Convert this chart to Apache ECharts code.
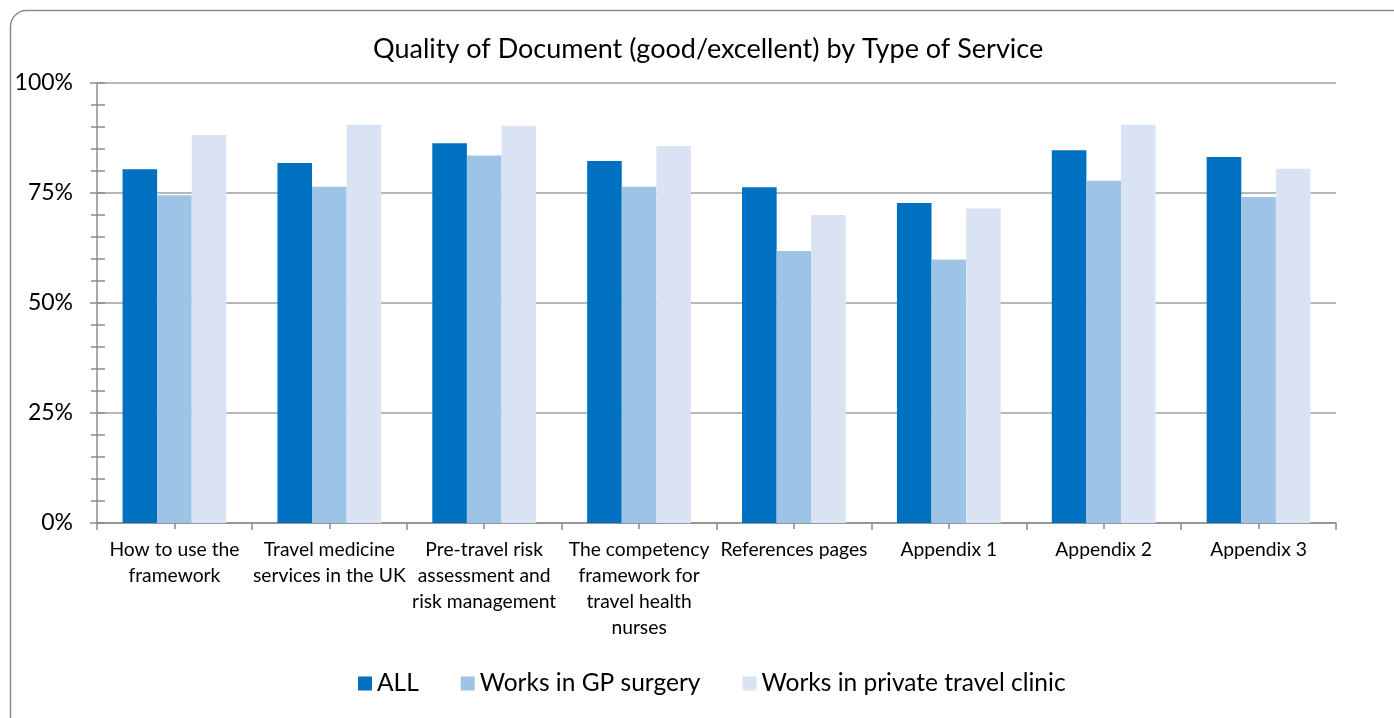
<!DOCTYPE html>
<html>
<head>
<meta charset="utf-8">
<script src="https://cdn.jsdelivr.net/npm/echarts@6/dist/echarts.min.js"></script>
<style>html,body{margin:0;padding:0;background:#fff}#c{width:1394px;height:718px}</style>
</head>
<body>
<div id="c"></div>
<script>
const title = 'Quality of Document (good/excellent) by Type of Service';
const categories = [
  'How to use the\nframework',
  'Travel medicine\nservices in the UK',
  'Pre-travel risk\nassessment and\nrisk management',
  'The competency\nframework for\ntravel health\nnurses',
  'References pages',
  'Appendix 1',
  'Appendix 2',
  'Appendix 3'
];
const seriesNames = ['ALL', 'Works in GP surgery', 'Works in private travel clinic'];
const allValues     = [80.4, 81.8, 86.3, 82.3, 76.3, 72.7, 84.7, 83.2];
const gpValues      = [74.5, 76.4, 83.5, 76.4, 61.8, 59.9, 77.8, 74.1];
const privateValues = [88.2, 90.5, 90.3, 85.7, 70.0, 71.5, 90.5, 80.5];
const yTicks = [0, 25, 50, 75, 100];

const colors = ['#0070C0', '#9DC3E6', '#DAE3F3'];
const font = 'Lato, "Open Sans", sans-serif';
const chart = echarts.init(document.getElementById('c'));
const axisGray = '#8C8C8C';

chart.setOption({
  animation: false,
  textStyle: { fontFamily: font },
  title: {
    text: title, left: 368, top: 31,
    textStyle: { fontFamily: font, fontSize: 27, fontWeight: 'normal', color: '#000' }
  },
  legend: {
    bottom: 17, left: 353,
    itemWidth: 14, itemHeight: 14, itemGap: 42,
    icon: 'rect',
    textStyle: { fontFamily: font, fontSize: 24.5, color: '#000' },
    data: seriesNames
  },
  graphic: [{
    type: 'rect', silent: true, z: -1,
    shape: { x: 10.5, y: 10.5, width: 1400, height: 730, r: 16 },
    style: { fill: '#fff', stroke: '#8A8A8A', lineWidth: 1.5 }
  }],
  grid: { left: 97, right: 58, top: 83, bottom: 195, containLabel: false },
  xAxis: [{
    type: 'category', data: categories, position: 'bottom',
    axisLine: { lineStyle: { color: axisGray, width: 1.5 } },
    axisTick: { show: true, length: 7, lineStyle: { color: axisGray, width: 1.5 } },
    axisLabel: { interval: 0, margin: 14, fontSize: 19.3, lineHeight: 26, color: '#000', fontFamily: font },
    splitLine: { show: false }
  }, {
    type: 'category', data: categories, position: 'bottom', offset: 0,
    axisLine: { show: false },
    axisTick: { show: true, alignWithLabel: true, length: 6, lineStyle: { color: axisGray, width: 1.5 } },
    axisLabel: { show: false },
    splitLine: { show: false }
  }],
  yAxis: [{
    type: 'value', min: 0, max: 100, interval: 25,
    axisLine: { show: true, lineStyle: { color: axisGray, width: 1.5 } },
    axisTick: { show: true, length: 7, lineStyle: { color: axisGray, width: 1.5 } },
    minorTick: { show: true, splitNumber: 5, length: 6, lineStyle: { color: axisGray, width: 1.5 } },
    axisLabel: {
      margin: 24, fontSize: 23, color: '#000', fontFamily: font,
      formatter: v => yTicks.indexOf(v) >= 0 ? v + '%' : ''
    },
    splitLine: { show: true, lineStyle: { color: '#A0A0A0', width: 1.5 } }
  }, {
    type: 'value', min: 0, max: 100, interval: 25, position: 'left', offset: 0,
    axisLine: { show: false },
    axisTick: { show: true, inside: true, length: 8, lineStyle: { color: axisGray, width: 1.5 } },
    minorTick: { show: true, splitNumber: 5, length: 8, lineStyle: { color: axisGray, width: 1.5 } },
    axisLabel: { show: false },
    splitLine: { show: false }
  }],
  series: [
    { name: seriesNames[0], type: 'bar', data: allValues, itemStyle: { color: colors[0] }, barGap: '0%', barCategoryGap: '33%' },
    { name: seriesNames[1], type: 'bar', data: gpValues, itemStyle: { color: colors[1] }, barGap: '0%', barCategoryGap: '33%' },
    { name: seriesNames[2], type: 'bar', data: privateValues, itemStyle: { color: colors[2] }, barGap: '0%', barCategoryGap: '33%' }
  ]
});
</script>
</body>
</html>
